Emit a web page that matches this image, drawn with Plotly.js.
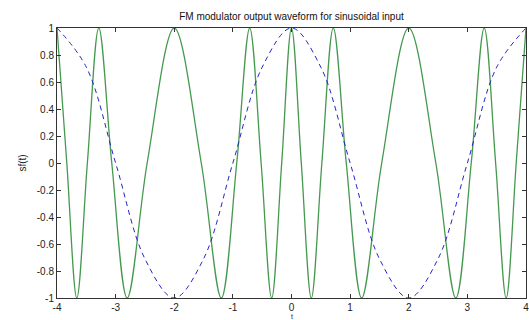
<!DOCTYPE html>
<html>
<head>
<meta charset="utf-8">
<script src="https://cdn.plot.ly/plotly-3.0.1.min.js"></script>
<style>html,body{margin:0;padding:0;background:#fff;}#chart{width:529px;height:320px;}</style>
</head>
<body>
<div id="chart"></div>
<script>
// FM output (green): extrema and zero crossings
const fmT = [-4, -3.833, -3.662, -3.482, -3.287, -3.066, -2.803, -2.462, -2, -1.539, -1.197, -0.934, -0.713, -0.518, -0.338, -0.167,
             0, 0.167, 0.338, 0.518, 0.713, 0.934, 1.197, 1.539, 2, 2.462, 2.803, 3.066, 3.287, 3.482, 3.662, 3.833, 4];
const fmV = [1, 0, -1, 0, 1, 0, -1, 0, 1, 0, -1, 0, 1, 0, -1, 0,
             1, 0, -1, 0, 1, 0, -1, 0, 1, 0, -1, 0, 1, 0, -1, 0, 1];
// message signal (blue dashed)
const msgT = [-4, -3.5, -3, -2.5, -2, -1.5, -1, -0.5, 0, 0.5, 1, 1.5, 2, 2.5, 3, 3.5, 4];
const msgV = [1, 0.71, 0, -0.71, -1, -0.71, 0, 0.71, 1, 0.71, 0, -0.71, -1, -0.71, 0, 0.71, 1];
const xTicks = [-4, -3, -2, -1, 0, 1, 2, 3, 4];
const xTickText = ["-4", "-3", "-2", "-1", "0", "1", "2", "3", "4"];
const yTicks = [-1, -0.8, -0.6, -0.4, -0.2, 0, 0.2, 0.4, 0.6, 0.8, 1];
const yTickText = ["-1", "-0.8", "-0.6", "-0.4", "-0.2", "0", "0.2", "0.4", "0.6", "0.8", "1"];

const traces = [
  {x: fmT, y: fmV, mode: 'lines', line: {color: '#45994f', width: 1.3, shape: 'spline', smoothing: 1}, hoverinfo: 'skip'},
  {x: msgT, y: msgV, mode: 'lines', line: {color: '#2626c8', width: 1, dash: '5px,4px', shape: 'spline', smoothing: 1}, hoverinfo: 'skip'}
];
const axisCommon = {
  showgrid: false, zeroline: false, showline: true, mirror: 'ticks', linecolor: '#333', linewidth: 1,
  ticks: 'inside', ticklen: 4, tickcolor: '#333', ticklabeloverflow: 'allow',
  tickfont: {family: 'Liberation Sans, Arial, sans-serif', size: 10, color: '#222'}
};
const layout = {
  width: 529, height: 320,
  margin: {l: 57, r: 3, t: 28, b: 22},
  paper_bgcolor: '#fff', plot_bgcolor: '#fff',
  showlegend: false,
  title: {text: 'FM modulator output waveform for sinusoidal input', x: 0.551, xanchor: 'center', y: 0.947, yanchor: 'middle',
          font: {family: 'Liberation Sans, Arial, sans-serif', size: 10, color: '#111'}},
  xaxis: Object.assign({}, axisCommon, {range: [-4, 4], tickvals: xTicks, ticktext: xTickText}),
  yaxis: Object.assign({}, axisCommon, {range: [-1, 1], tickvals: yTicks, ticktext: yTickText,
          title: {text: 'sf(t)', standoff: 8, font: {family: 'Liberation Sans, Arial, sans-serif', size: 10, color: '#222'}}}),
  annotations: [{text: 't', x: 0, xref: 'x', y: -22 / 270, yref: 'paper', yanchor: 'bottom', showarrow: false,
                 borderpad: 0, yshift: -1,
                 font: {family: 'Liberation Sans, Arial, sans-serif', size: 7, color: '#222'}}]
};
Plotly.newPlot('chart', traces, layout, {staticPlot: true, displayModeBar: false});
</script>
</body>
</html>
